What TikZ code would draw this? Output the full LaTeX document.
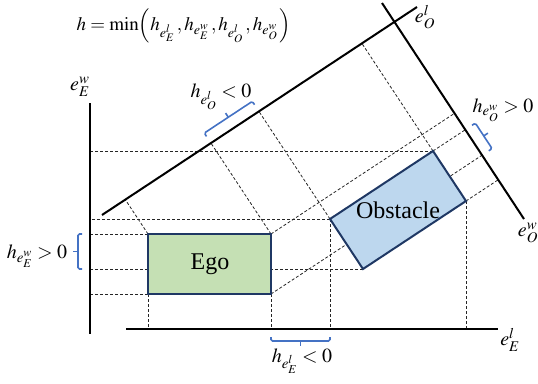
\documentclass[tikz,border=0pt]{standalone}
\usepackage{amsmath}
\usepackage{mathptmx}
\usepackage{fontspec}
\setmainfont{Liberation Serif}
\usetikzlibrary{calc}

\definecolor{egogreen}{HTML}{C5E0B4}
\definecolor{obsblue}{HTML}{BDD7EE}
\definecolor{edgenavy}{HTML}{1F3864}
\definecolor{gapblue}{HTML}{4472C4}

\tikzset{
  axis/.style={line width=2pt},
  proj/.style={line width=0.8pt, dash pattern=on 3pt off 2pt, black!85},
  car/.style={draw=edgenavy, line width=2pt},
  gap/.style={draw=gapblue, line width=1.6pt, rounded corners=1.5pt},
  lbl/.style={font=\fontsize{20}{24}\selectfont, inner sep=0pt},
  carname/.style={font=\fontsize{24}{28}\selectfont, inner sep=0pt}
}

% 间隙括号: #1, #2 为端点, #3 为旋转角
\newcommand{\gapmark}[3]{%
  \coordinate (#1#2mid) at ($(#1)!0.5!(#2)$);
  \draw[gap] ($(#1)!8pt!#3:(#2)$) -- ($(#1)!12pt!#3:(#2)$)
    -- ($(#2)!12pt!-#3:(#1)$) -- ($(#2)!8pt!-#3:(#1)$);
  \draw[gap] ($(#1#2mid)!12pt!#3:(#2)$) -- ($(#1#2mid)!17pt!#3:(#2)$);
}

\begin{document}
\begin{tikzpicture}[x=1pt, y=-1pt]
    \useasboundingbox (0,0) rectangle (538,383);

    % 坐标轴端点
    \coordinate (ewT) at (90,103);
    \coordinate (ewB) at (90,334);
    \coordinate (elL) at (126,329);
    \coordinate (elR) at (498,329);
    \coordinate (olA) at (102,215);
    \coordinate (olB) at (417,7);
    \coordinate (owA) at (382,3);
    \coordinate (owB) at (524,219);

    % 车辆角点
    \coordinate (egoTL) at (148,234);
    \coordinate (egoTR) at (271,234);
    \coordinate (egoBR) at (271,294);
    \coordinate (egoBL) at (148,294);
    \coordinate (obsL) at (330,219);
    \coordinate (obsT) at (433,151);
    \coordinate (obsR) at (466,201);
    \coordinate (obsB) at (363,269);

    % 投影到 e_E^w
    \draw[proj] (obsT) -- ($(ewT)!(obsT)!(ewB)$);
    \draw[proj] (obsL) -- ($(ewT)!(obsL)!(ewB)$);
    \draw[proj] (egoTL) -- ($(ewT)!(egoTL)!(ewB)$) coordinate (wEgo);
    \draw[proj] (obsB) -- ($(ewT)!(obsB)!(ewB)$) coordinate (wObs);
    \draw[proj] (egoBL) -- ($(ewT)!(egoBL)!(ewB)$);

    % 投影到 e_E^l
    \draw[proj] (egoBL) -- ($(elL)!(egoBL)!(elR)$);
    \draw[proj] (egoBR) -- ($(elL)!(egoBR)!(elR)$) coordinate (lEgo);
    \draw[proj] (obsL) -- ($(elL)!(obsL)!(elR)$) coordinate (lObs);
    \draw[proj] (obsR) -- ($(elL)!(obsR)!(elR)$);

    % 投影到 e_O^l
    \draw[proj] (egoTL) -- ($(olA)!(egoTL)!(olB)$);
    \draw[proj] (egoTR) -- ($(olA)!(egoTR)!(olB)$) coordinate (oEgo);
    \draw[proj] (obsL) -- ($(olA)!(obsL)!(olB)$) coordinate (oObs);
    \draw[proj] (obsT) -- ($(olA)!(obsT)!(olB)$);

    % 投影到 e_O^w
    \draw[proj] (egoTR) -- ($(owA)!(egoTR)!(owB)$);
    \draw[proj] (egoBR) -- ($(owA)!(egoBR)!(owB)$) coordinate (qEgo);
    \draw[proj] (obsT) -- ($(owA)!(obsT)!(owB)$) coordinate (qObs);
    \draw[proj] (obsR) -- ($(owA)!(obsR)!(owB)$);

    % 坐标轴
    \draw[axis] (ewT) -- (ewB);
    \draw[axis] (elL) -- (elR);
    \draw[axis] (olA) -- (olB);
    \draw[axis] (owA) -- (owB);

    % 车辆
    \draw[car, fill=egogreen] (egoTL) -- (egoTR) -- (egoBR) -- (egoBL) -- cycle;
    \draw[car, fill=obsblue] (obsL) -- (obsT) -- (obsR) -- (obsB) -- cycle;
    \node[carname] (ego) at (210,264) {Ego};
    \node[carname] (obstacle) at (398,210) {Obstacle};

    % 间隙括号
    \gapmark{lObs}{lEgo}{90}
    \gapmark{wObs}{wEgo}{90}
    \gapmark{oEgo}{oObs}{90}
    \gapmark{qObs}{qEgo}{90}

    % 文字
    \node[lbl, font=\fontsize{19}{23}\selectfont] (formula) at (184,26) {$h=\min\Bigl(h_{e_E^l}\,,h_{e_E^w}\,,h_{e_O^l}\,,h_{e_O^w}\,\Bigr)$};
    \node[lbl] (nameEw) at (80,87) {$e_E^w$};
    \node[lbl] (nameEl) at (510,340) {$e_E^l$};
    \node[lbl] (nameOl) at (425,17) {$e_O^l$};
    \node[lbl] (nameOw) at (528,233) {$e_O^w$};
    \node[lbl] (hOl) at (221,97) {$h_{e_O^l}<0$};
    \node[lbl] (hOw) at (503,110) {$h_{e_O^w}>0$};
    \node[lbl] (hEw) at (37,256) {$h_{e_E^w}>0$};
    \node[lbl] (hEl) at (302,361) {$h_{e_E^l}<0$};
\end{tikzpicture}
\end{document}
